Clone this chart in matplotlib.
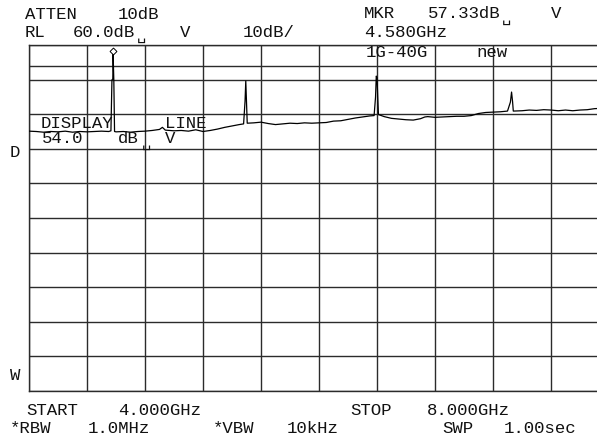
import numpy as np
import matplotlib
matplotlib.use("Agg")
import matplotlib.pyplot as plt

# sweep settings
start_ghz = 4.0
stop_ghz = 8.0
ref_level = 60.0
db_per_div = 10.0
display_line = 54.0
mkr_freq = 4.580
mkr_level = 57.33

# trace (GHz, dBuV)
freq_ghz = [4.00, 4.05, 4.10, 4.15, 4.20, 4.25, 4.30, 4.35, 4.40, 4.45, 4.50, 4.55,
            4.565, 4.572, 4.578, 4.580, 4.585, 4.59,
            4.60, 4.65, 4.70, 4.75, 4.80, 4.85, 4.90, 4.92, 4.94, 5.00, 5.05, 5.10,
            5.15, 5.20, 5.25, 5.30, 5.35, 5.40, 5.45, 5.48,
            5.49, 5.495, 5.50, 5.505,
            5.55, 5.60, 5.65, 5.70, 5.75, 5.80, 5.85, 5.90, 5.95, 6.00, 6.05, 6.10,
            6.15, 6.20, 6.25, 6.30, 6.35, 6.38,
            6.39, 6.395, 6.40, 6.405, 6.41,
            6.45, 6.50, 6.55, 6.60, 6.65, 6.70, 6.73, 6.75, 6.80, 6.85, 6.90, 6.95,
            7.00, 7.05, 7.10, 7.15, 7.20, 7.25, 7.30,
            7.32, 7.328, 7.335, 7.34,
            7.40, 7.45, 7.50, 7.55, 7.60, 7.65, 7.70, 7.75, 7.80, 7.85, 7.90, 7.95, 8.00]
level_db = [35.1, 35.0, 34.8, 35.0, 34.9, 35.1, 34.8, 35.0, 34.9, 35.0, 35.1, 35.0,
            35.2, 49.9, 50.2, 57.33, 49.8, 35.0,
            34.9, 35.0, 34.8, 35.0, 35.1, 35.3, 35.6, 36.2, 35.4, 35.2, 35.3, 35.1,
            35.5, 35.0, 35.3, 35.7, 36.2, 36.6, 37.0, 37.2,
            43.8, 49.6, 43.5, 37.4,
            37.5, 37.7, 37.3, 37.0, 37.2, 37.4, 37.3, 37.5, 37.4, 37.5, 37.6, 38.0,
            38.1, 38.5, 38.9, 39.2, 39.5, 39.6,
            45.0, 51.0, 50.6, 45.0, 39.9,
            39.3, 38.8, 38.6, 38.4, 38.3, 38.7, 39.2, 39.3, 39.1, 39.2, 39.3, 39.4,
            39.4, 39.6, 40.2, 40.5, 40.6, 40.7, 40.9,
            43.5, 46.4, 43.6, 40.9,
            41.0, 41.2, 41.1, 41.3, 41.2, 41.0, 41.2, 41.0, 41.2, 41.3, 41.6, 41.7, 41.6]

W, H = 597, 439
fig = plt.figure(figsize=(W / 100, H / 100), dpi=100)
fig.patch.set_facecolor("white")

# plot frame runs a bit past the right edge of the picture
ax = fig.add_axes([29 / W, (H - 392) / H, 580 / W, 346 / H])
ax.set_xlim(start_ghz, stop_ghz)
ax.set_ylim(ref_level - 10 * db_per_div, ref_level)

grid_col = "#2b2b2b"
for f in np.arange(start_ghz, stop_ghz + 0.001, 0.4):
    ax.axvline(f, color=grid_col, lw=1.0, zorder=1)
for d in np.arange(ref_level - 10 * db_per_div, ref_level + 0.001, db_per_div):
    ax.axhline(d, color=grid_col, lw=1.0, zorder=1)
ax.axhline(display_line, color=grid_col, lw=1.0, zorder=1)

ax.plot(freq_ghz, level_db, color="black", lw=0.9, zorder=3)
ax.plot([mkr_freq], [mkr_level + 1.0], marker="D", ms=3.5, mfc="white",
        mec="black", mew=0.7, zorder=4)

ax.set_xticks([])
ax.set_yticks([])
for s in ax.spines.values():
    s.set_color(grid_col)
    s.set_linewidth(1.0)

mono = ["Liberation Mono", "DejaVu Sans Mono", "DejaVu Sans"]


def put(x, y, s, size=12.5):
    fig.text(x / W, 1 - y / H, s, fontsize=size, family=mono,
             va="baseline", ha="left", color="#111111")


# header
put(25, 19, "ATTEN")
put(118, 19, "10dB")
put(25, 37, "RL")
put(73, 37, "60.0dB")
put(137, 40, "\u2423", 11)
put(180, 37, "V")
put(243, 37, "10dB/")
put(364, 18, "MKR")
put(428, 18, "57.33dB")
put(502, 22, "\u2423", 11)
put(551, 18, "V")
put(364, 37, "4.580GHz")
put(366, 57, "1G-40G")
put(476, 57, "new")

# display line annotation
put(41, 128, "DISPLAY")
put(165, 128, "LINE")
put(42, 143, "54.0")
put(118, 143, "dB")
put(142, 147, "\u2423", 11)
put(165, 143, "V")

put(10, 157, "D")
put(10, 380, "W")

# footer
put(26, 415, "START")
put(118, 415, "4.000GHz")
put(350, 415, "STOP")
put(427, 415, "8.000GHz")
put(10, 433, "*RBW")
put(88, 433, "1.0MHz")
put(213, 433, "*VBW")
put(287, 433, "10kHz")
put(442, 433, "SWP")
put(504, 433, "1.00sec")

fig.savefig("out.png", dpi=100)
